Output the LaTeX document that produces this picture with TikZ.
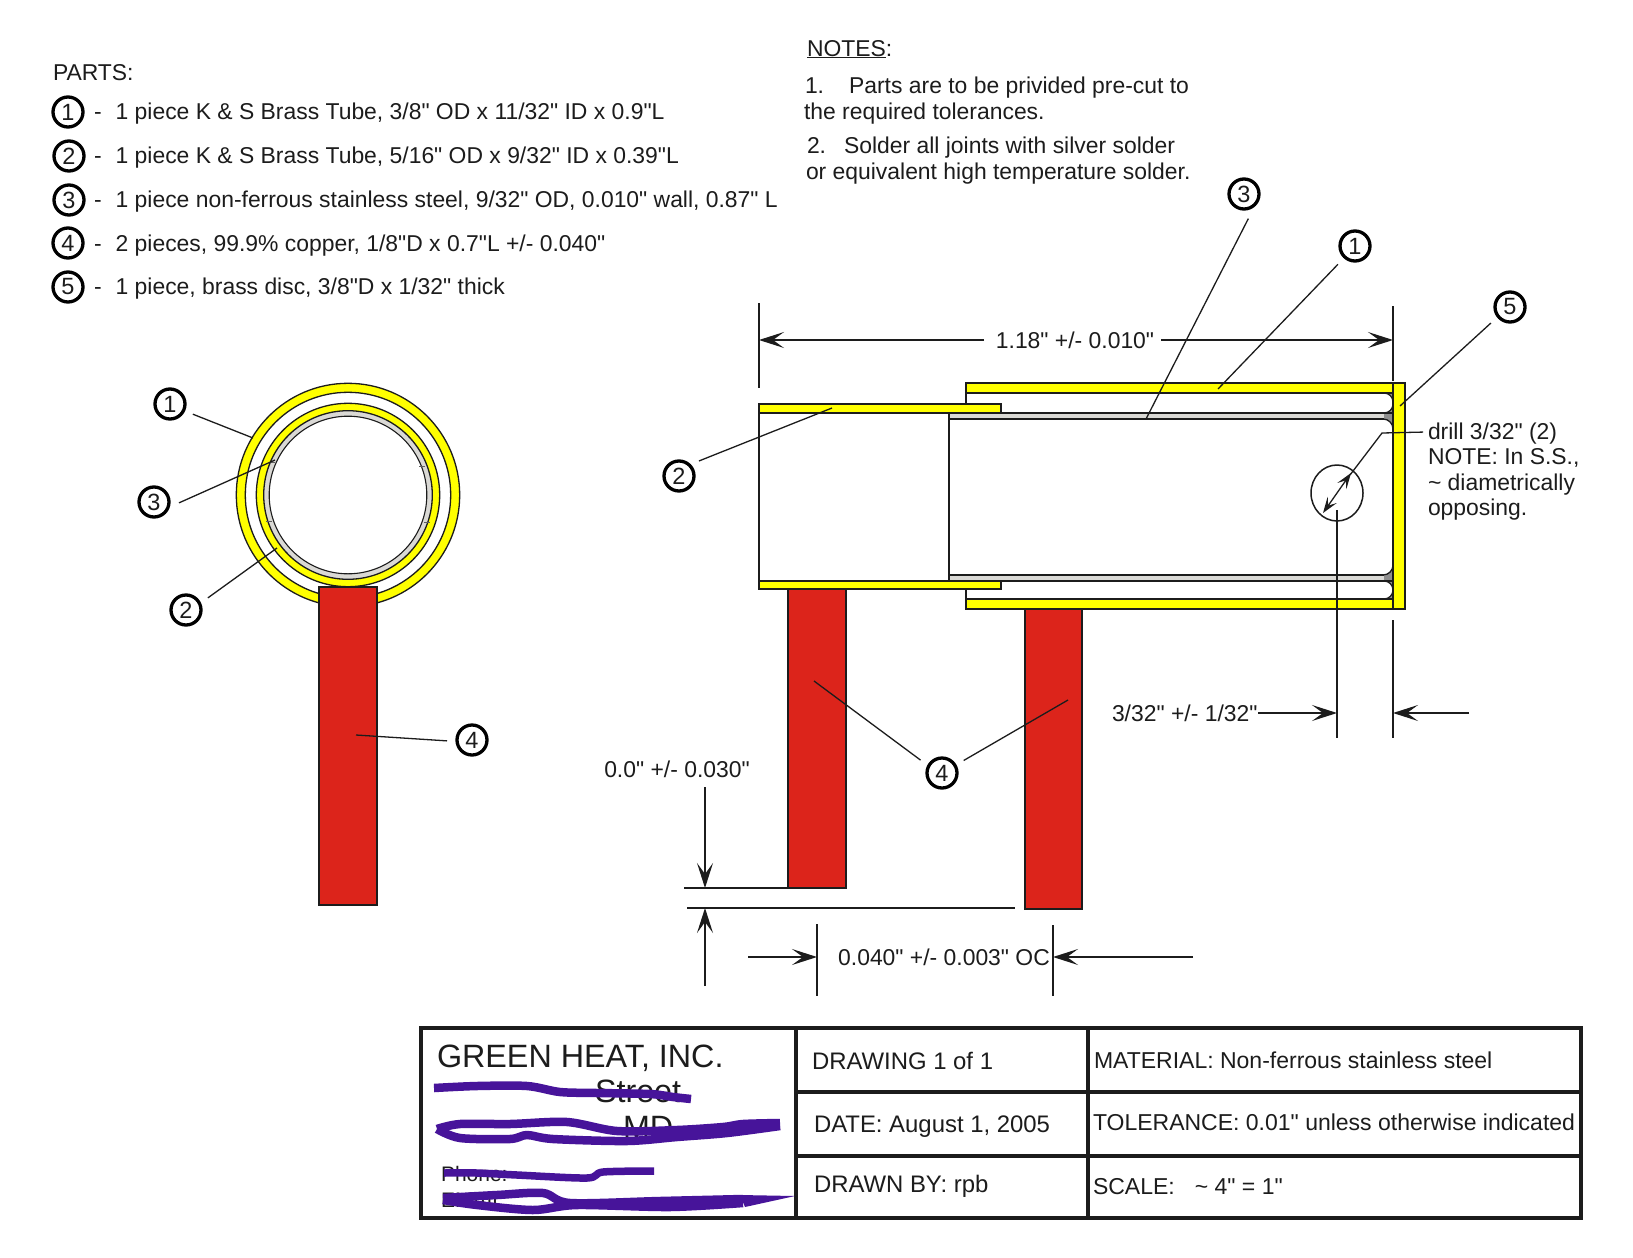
\documentclass[tikz,border=0pt]{standalone}
\usepackage{fontspec}
\setmainfont{Liberation Sans}[Ligatures=TeXOff]
\usetikzlibrary{arrows.meta}
\definecolor{brass}{HTML}{FFFF00}
\definecolor{copperred}{HTML}{DC241B}
\definecolor{steel}{HTML}{DAD9D5}
\definecolor{fillet}{HTML}{8E8E8E}
\definecolor{scribble}{HTML}{47149A}
\definecolor{ink}{HTML}{1C1C1C}
\tikzset{
  txt/.style={anchor=base west,inner sep=0pt,outer sep=0pt,text=ink,font=\fontsize{22.9}{26}\selectfont},
  tbl/.style={txt,font=\fontsize{23.9}{27}\selectfont},
  tblr/.style={txt,font=\fontsize{23}{27}\selectfont},
  dimlabel/.style={anchor=base,inner sep=0pt,outer sep=0pt,text=ink,font=\fontsize{22.9}{26}\selectfont},
  callout/.style={circle,draw=black,line width=3.3pt,fill=white,minimum size=30pt,inner sep=0pt,outer sep=10pt,text=ink,font=\fontsize{23.5}{26}\selectfont},
  partmark/.style={callout,outer sep=0pt},
  outline/.style={draw=ink,line width=1.3pt},
  leader/.style={draw=ink,line width=1.3pt},
  dimline/.style={draw=ink,line width=1.3pt},
  dimarrow/.style={dimline,-{Stealth[length=25pt,width=16pt,inset=11pt]}},
  holearrow/.style={dimline,{Stealth[length=16pt,width=11pt,inset=7pt]}-{Stealth[length=16pt,width=11pt,inset=7pt]}},
  scrib/.style={draw=scribble,line width=8.5pt,line join=round},
  titlerule/.style={draw=ink,line width=3.4pt},
}
\begin{document}
\begin{tikzpicture}[x=1pt,y=-1pt]
\useasboundingbox[fill=white] (0,0) rectangle (1633,1258);

% ---------- parts list
\node[txt] (partshead) at (53,80) {PARTS:};
\node[partmark] (p1) at (68,112) {1};
\node[partmark] (p2) at (69,156) {2};
\node[partmark] (p3) at (69,200) {3};
\node[partmark] (p4) at (68,243) {4};
\node[partmark] (p5) at (68,287) {5};
\node[txt] (t1) at (94,119) {-\hspace{14pt}1 piece K \& S Brass Tube, 3/8" OD x 11/32" ID x 0.9"L};
\node[txt] (t2) at (94,163) {-\hspace{14pt}1 piece K \& S Brass Tube, 5/16" OD x 9/32" ID x 0.39"L};
\node[txt] (t3) at (94,207) {-\hspace{14pt}1 piece non-ferrous stainless steel, 9/32" OD, 0.010" wall, 0.87" L};
\node[txt] (t4) at (94,251) {-\hspace{14pt}2 pieces, 99.9\% copper, 1/8"D x 0.7"L +/- 0.040"};
\node[txt] (t5) at (94,294) {-\hspace{14pt}1 piece, brass disc, 3/8"D x 1/32" thick};

% ---------- notes
\node[txt] (noteshead) at (807,56) {\underline{NOTES}:};
\node[txt] (n1a) at (805,93) {1.\hspace{25pt}Parts are to be privided pre-cut to};
\node[txt] (n1b) at (804,119) {the required tolerances.};
\node[txt] (n2a) at (807,153) {2.\hspace{18pt}Solder all joints with silver solder};
\node[txt] (n2b) at (806,179) {or equivalent high temperature solder.};

% ---------- end view
\coordinate (ec) at (348,495);
\draw[outline,fill=brass] (ec) circle[radius=111.7pt];
\draw[outline,fill=white] (ec) circle[radius=102.7pt];
\draw[outline,fill=brass] (ec) circle[radius=91.7pt];
\draw[outline,fill=steel] (ec) circle[radius=84.3pt];
\draw[outline,line width=1.1pt,fill=white] (ec) circle[radius=78.8pt];
\foreach \tx/\ty in {-76/-33,74/-29,-79/26,79/27}{
  \draw[draw=ink!70,line width=1pt] ([shift={(\tx-3,\ty)}]ec) -- ([shift={(\tx+3,\ty)}]ec);
}
\draw[outline,fill=copperred] (319,587) rectangle (377,905);

\coordinate (el1) at (253,438);
\coordinate (el3) at (275,460);
\coordinate (el2) at (277,548);
\coordinate (el4) at (356,735);
\node[callout] (c1l) at (170,404) {1};
\node[callout] (c3l) at (154,502) {3};
\node[callout] (c2l) at (186,610) {2};
\node[callout] (c4l) at (472,740) {4};
\draw[leader] (c1l.-24) -- (el1);
\draw[leader] (c3l.-2) -- (el3);
\draw[leader] (c2l.29) -- (el2);
\draw[leader] (c4l.182) -- (el4);

% ---------- section view
\draw[outline,fill=white] (759,413) rectangle (949,581);
\fill[fillet] (1378,393) rectangle (1393,599);
\draw[outline,fill=white,rounded corners=9pt] (1360,393) -- (1393,393) -- (1393,413) -- (1360,413);
\draw[outline,fill=white,rounded corners=9pt] (1360,581) -- (1393,581) -- (1393,599) -- (1360,599);
\draw[outline,fill=white,rounded corners=10pt] (1360,419) -- (1393,419) -- (1393,575) -- (1360,575);
\fill[steel] (949,413) rectangle (1384,419);
\fill[steel] (949,575) rectangle (1384,581);
\draw[outline] (949,413) -- (1393,413);
\draw[outline,line width=1.1pt] (949,419) -- (1384,419);
\draw[outline,line width=1.1pt] (949,575) -- (1384,575);
\draw[outline] (949,581) -- (1393,581);
\draw[outline] (949,413) -- (949,581);
\draw[outline] (966,393) -- (966,404);
\draw[outline] (966,589) -- (966,599);
\draw[outline,fill=brass] (966,383) rectangle (1393,393);
\draw[outline,fill=brass] (966,599) rectangle (1393,609);
\draw[outline,fill=brass] (759,404) rectangle (1001,413);
\draw[outline,fill=brass] (759,581) rectangle (1001,589);
\draw[outline,fill=brass] (1393,383) rectangle (1405,609);
\draw[outline,fill=copperred] (788,589) rectangle (846,888);
\draw[outline,fill=copperred] (1025,609) rectangle (1082,909);

% hole
\draw[outline,line width=1.5pt] (1337,493) ellipse[x radius=26pt,y radius=28pt];
\coordinate (hU) at (1351,473);
\coordinate (hL) at (1323,513);
\draw[holearrow] (hL) -- (hU);
\coordinate (drillA) at (1382,433);
\coordinate (drillB) at (1350,475);
\node[txt] (d1) at (1428,439) {drill 3/32" (2)};
\node[txt] (d2) at (1428,464) {NOTE: In S.S.,};
\node[txt] (d3) at (1428,490) {\textasciitilde{} diametrically};
\node[txt] (d4) at (1428,515) {opposing.};
\draw[leader] (d1.west) ++(-5,-1) -- (drillA) -- (drillB);

% callouts on section
\coordinate (er3) at (1146,419);
\coordinate (er1) at (1218,389);
\coordinate (er5) at (1400,406);
\coordinate (er2) at (832,408);
\coordinate (er4a) at (814,681);
\coordinate (er4b) at (1068,700);
\node[callout] (c3r) at (1244,194) {3};
\node[callout] (c1r) at (1355,246) {1};
\node[callout] (c5r) at (1510,307) {5};
\node[callout] (c2r) at (679,476) {2};
\node[callout] (c4r) at (942,773) {4};
\draw[leader] (c3r.-80) -- (er3);
\draw[leader] (c1r.-133) -- (er1);
\draw[leader] (c5r.-140) -- (er5);
\draw[leader] (c2r.37) -- (er2);
\draw[leader] (c4r.149) -- (er4a);
\draw[leader] (c4r.30) -- (er4b);

% ---------- dimensions
% 1.18
\node[dimlabel] (dimA) at (1075,348) {1.18" +/- 0.010"};
\coordinate (dimAl) at (759,340);
\coordinate (dimAr) at (1393,340);
\coordinate (dimAlx) at (759,303);
\coordinate (dimAly) at (759,388);
\coordinate (dimArx) at (1393,306);
\coordinate (dimAry) at (1393,381);
\draw[dimline] (dimAlx) -- (dimAly);
\draw[dimline] (dimArx) -- (dimAry);
\coordinate (dimAs) at (984,340);
\coordinate (dimAe) at (1161,340);
\draw[dimarrow] (dimAs) -- (dimAl);
\draw[dimarrow] (dimAe) -- (dimAr);

% 3/32
\node[txt] (dimB) at (1112,721) {3/32" +/- 1/32"};
\coordinate (dimBs) at (1258,713);
\coordinate (dimBt) at (1337,713);
\coordinate (dimBr) at (1469,713);
\coordinate (dimBq) at (1393,713);
\coordinate (holeBot) at (1337,510);
\coordinate (holeEnd) at (1337,738);
\coordinate (wallTop) at (1393,620);
\coordinate (wallEnd) at (1393,738);
\draw[dimline] (holeBot) -- (holeEnd);
\draw[dimline] (wallTop) -- (wallEnd);
\draw[dimarrow] (dimBs) -- (dimBt);
\draw[dimarrow] (dimBr) -- (dimBq);

% 0.0
\node[dimlabel] (dimC) at (677,777) {0.0" +/- 0.030"};
\coordinate (dimCa) at (705,787);
\coordinate (dimCb) at (705,888);
\coordinate (dimCc) at (705,986);
\coordinate (dimCd) at (705,908);
\coordinate (dimCl1) at (684,888);
\coordinate (dimCr1) at (788,888);
\coordinate (dimCl2) at (687,908);
\coordinate (dimCr2) at (1015,908);
\draw[dimline] (dimCl1) -- (dimCr1);
\draw[dimline] (dimCl2) -- (dimCr2);
\draw[dimarrow] (dimCa) -- (dimCb);
\draw[dimarrow] (dimCc) -- (dimCd);

% 0.040
\node[dimlabel] (dimD) at (944,965) {0.040" +/- 0.003" OC};
\coordinate (dimDa) at (748,957);
\coordinate (dimDb) at (817,957);
\coordinate (dimDc) at (1193,957);
\coordinate (dimDd) at (1053,957);
\coordinate (dimDt1) at (817,924);
\coordinate (dimDe1) at (817,996);
\coordinate (dimDt2) at (1053,925);
\coordinate (dimDe2) at (1053,996);
\draw[dimline] (dimDt1) -- (dimDe1);
\draw[dimline] (dimDt2) -- (dimDe2);
\draw[dimarrow] (dimDa) -- (dimDb);
\draw[dimarrow] (dimDc) -- (dimDd);

% ---------- title block
\draw[titlerule] (421,1028) rectangle (1581,1218);
\draw[titlerule] (796,1028) -- (796,1218);
\draw[titlerule] (1088,1028) -- (1088,1218);
\draw[titlerule] (796,1092) -- (1581,1092);
\draw[titlerule] (796,1156) -- (1581,1156);

\node[txt,font=\fontsize{32.3}{36}\selectfont] (company) at (437,1067) {GREEN HEAT, INC.};
\node[txt,font=\fontsize{32.3}{36}\selectfont] (addr1) at (595,1102) {Street};
\node[txt,font=\fontsize{32.3}{36}\selectfont] (addr2) at (623,1138) {MD};
\node[txt,font=\fontsize{21}{24}\selectfont] (phone) at (441,1181) {Phone:};
\node[txt,font=\fontsize{21}{24}\selectfont] (email) at (441,1207) {EMAIL:};

\node[tbl] (b1) at (812,1069) {DRAWING 1 of 1};
\node[tbl] (b2) at (814,1132) {DATE: August 1, 2005};
\node[tbl] (b3) at (814,1192) {DRAWN BY: rpb};
\node[tblr] (b4) at (1094,1068) {MATERIAL: Non-ferrous stainless steel};
\node[tblr] (b5) at (1093,1130) {TOLERANCE: 0.01" unless otherwise indicated};
\node[tblr] (b6) at (1093,1194) {SCALE:\hspace{20pt}\textasciitilde{} 4" = 1"};

% redaction scribbles
\draw[scrib] plot[smooth,tension=.5] coordinates {(434,1088) (477,1086) (527,1086) (560,1092) (597,1093) (650,1094) (673,1097) (691,1099)};
\draw[scrib] plot[smooth,tension=.5] coordinates {(437,1129) (460,1124) (510,1124) (567,1122) (617,1131) (677,1130) (723,1127) (743,1124) (780,1123)};
\draw[scrib] plot[smooth,tension=.5] coordinates {(780,1126) (727,1133) (677,1137) (627,1141) (553,1139) (527,1135) (510,1139) (460,1138) (437,1129)};
\draw[scrib,line width=7.5pt] plot[smooth,tension=.5] coordinates {(444,1173) (477,1173) (517,1175) (587,1178) (603,1172) (654,1171)};
\draw[scrib] plot[smooth,tension=.5] coordinates {(443,1200) (477,1205) (533,1210) (577,1205) (670,1207) (743,1203)};
\draw[scrib] plot[smooth,tension=.5] coordinates {(443,1198) (497,1195) (543,1193) (570,1203) (660,1201) (743,1199)};
\fill[scribble] (740,1195) -- (795,1196) -- (745,1207) -- cycle;
\end{tikzpicture}
\end{document}
